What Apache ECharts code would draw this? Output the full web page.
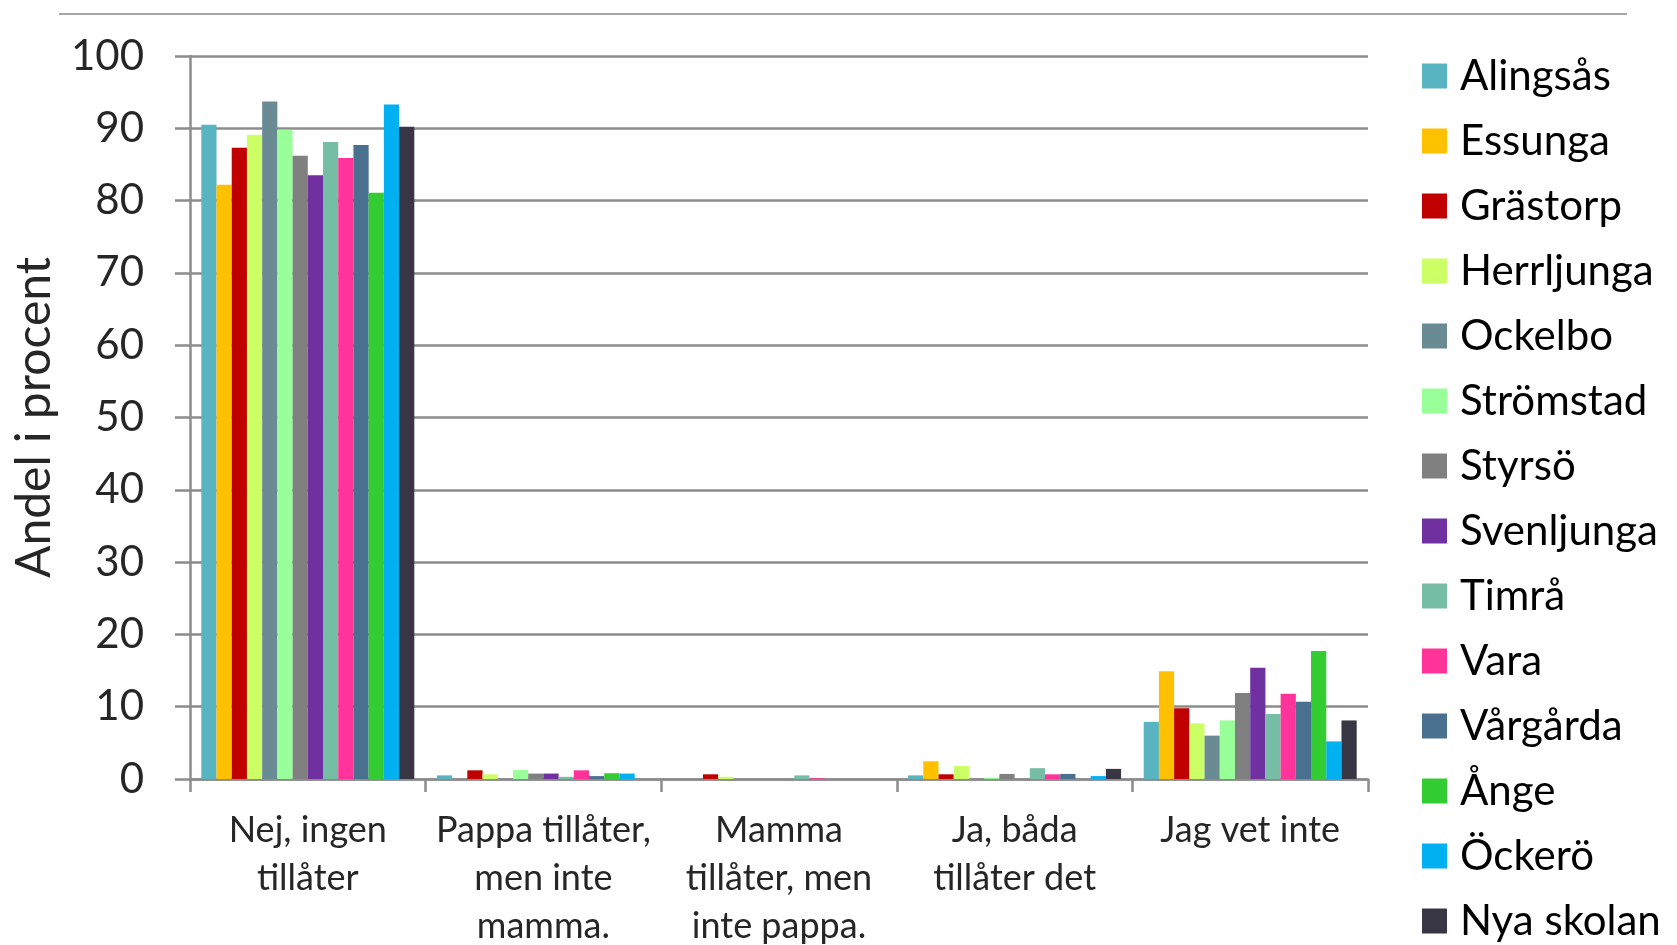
<!DOCTYPE html>
<html><head><meta charset="utf-8">
<script src="https://cdn.jsdelivr.net/npm/echarts@6/dist/echarts.min.js"></script>
<style>html,body{margin:0;padding:0;background:#fff}#c{width:1677px;height:945px}</style>
</head><body><div id="c"></div>
<script>
const categories = ['Nej, ingen\ntillåter', 'Pappa tillåter,\nmen inte\nmamma.', 'Mamma\ntillåter, men\ninte pappa.', 'Ja, båda\ntillåter det', 'Jag vet inte'];
const seriesNames = ['Alingsås','Essunga','Grästorp','Herrljunga','Ockelbo','Strömstad','Styrsö','Svenljunga','Timrå','Vara','Vårgårda','Ånge','Öckerö','Nya skolan'];
const seriesColors = ['#58B4C0','#FFC000','#C00000','#CCFF66','#6A8A94','#99FF99','#808080','#7030A0','#76BDA6','#FF3399','#4A7090','#33CC33','#00B0F0','#383545'];
const alingsas   = [90.5, 0.5, 0,    0.5,  7.9];
const essunga    = [82.2, 0,   0,    2.45, 14.9];
const grastorp   = [87.3, 1.2, 0.65, 0.65, 9.8];
const herrljunga = [89.1, 0.65,0.3,  1.8,  7.7];
const ockelbo    = [93.7, 0,   0,    0,    6.0];
const stromstad  = [89.8, 1.25,0,    0.2,  8.1];
const styrso     = [86.2, 0.75,0,    0.7,  11.9];
const svenljunga = [83.5, 0.75,0,    0,    15.4];
const timra      = [88.1, 0.3, 0.5,  1.5,  9.0];
const vara       = [85.9, 1.2, 0.1,  0.65, 11.8];
const vargarda   = [87.7, 0.4, 0,    0.7,  10.7];
const ange       = [81.1, 0.8, 0,    0,    17.7];
const ockero     = [93.3, 0.75,0,    0.4,  5.2];
const nyaSkolan  = [90.2, 0,   0,    1.4,  8.1];
const seriesValues = [alingsas, essunga, grastorp, herrljunga, ockelbo, stromstad, styrso, svenljunga, timra, vara, vargarda, ange, ockero, nyaSkolan];
const yTicks = [0, 100, 10];
const yTitle = 'Andel i procent';

const FONT = 'Lato';
const chart = echarts.init(document.getElementById('c'));
chart.setOption({
  backgroundColor: '#fff',
  animation: false,
  textStyle: { fontFamily: FONT },
  graphic: [{ type: 'line', shape: { x1: 59, y1: 14, x2: 1627, y2: 14 }, style: { stroke: '#a6a6a6', lineWidth: 2 } }],
  legend: {
    orient: 'vertical', left: 1422, top: 55, height: 890, padding: 0,
    itemWidth: 25, itemHeight: 25, itemGap: 23,
    icon: 'rect',
    textStyle: { fontFamily: FONT, fontSize: 42, color: '#000', padding: [0,0,0,8] },
    data: seriesNames
  },
  grid: { left: 190, right: 309, top: 56, bottom: 166, containLabel: false, outerBoundsMode: 'none' },
  xAxis: {
    type: 'category', data: categories,
    axisLine: { lineStyle: { color: '#8c8c8c', width: 2.5 } },
    axisTick: { show: true, length: 13, lineStyle: { color: '#8c8c8c', width: 2.5 } },
    axisLabel: { fontFamily: FONT, fontSize: 36, color: '#262626', margin: 27, lineHeight: 48, interval: 0 }
  },
  yAxis: {
    type: 'value', min: yTicks[0], max: yTicks[1], interval: yTicks[2],
    name: yTitle, nameLocation: 'middle', nameGap: 131, nameRotate: 90,
    nameTextStyle: { fontFamily: FONT, fontSize: 48, color: '#262626' },
    axisLine: { show: true, lineStyle: { color: '#8c8c8c', width: 2.5 } },
    axisTick: { show: true, length: 15, lineStyle: { color: '#8c8c8c', width: 2.5 } },
    axisLabel: { fontFamily: FONT, fontSize: 42, color: '#262626', margin: 46 },
    splitLine: { lineStyle: { color: '#8c8c8c', width: 2.5 } }
  },
  series: seriesNames.map((n, i) => ({
    name: n, type: 'bar', data: seriesValues[i],
    barGap: '0%', barCategoryGap: '9.6%',
    itemStyle: { color: seriesColors[i] }
  }))
});
</script></body></html>
